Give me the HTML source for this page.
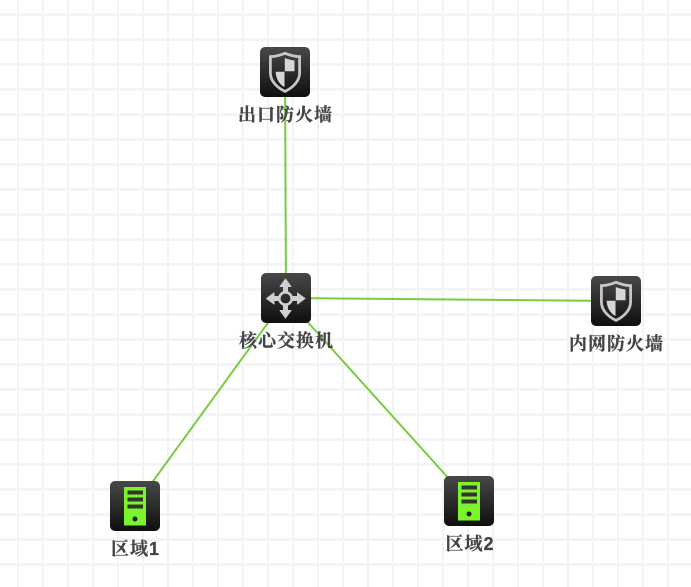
<!DOCTYPE html>
<html>
<head>
<meta charset="utf-8">
<style>
html,body{margin:0;padding:0;background:#fff}
#c{position:relative;width:691px;height:587px;overflow:hidden}
svg{position:absolute;left:0;top:0}
</style>
</head>
<body>
<div id="c">
<svg width="691" height="587" viewBox="0 0 691 587" xmlns="http://www.w3.org/2000/svg">
<defs>
<pattern id="g" x="17" y="13" width="25" height="25" patternUnits="userSpaceOnUse">
<rect x="0" y="0" width="2" height="25" fill="#f3f3f3"/>
<rect x="0" y="0" width="25" height="3" fill="#f4f4f4"/>
</pattern>
<linearGradient id="b" x1="0" y1="0" x2="0" y2="1">
<stop offset="0" stop-color="#484848"/>
<stop offset="1" stop-color="#0f0f0f"/>
</linearGradient>
<g id="shield">
<rect width="50" height="50" rx="5" fill="url(#b)"/>
<path d="M25 6.3 C30 8.3 35 9.6 39.6 9.6 V26 C39.6 34 33 40.5 25 44.4 C17 40.5 10.4 34 10.4 26 V9.6 C15 9.6 20 8.3 25 6.3 Z" fill="none" stroke="#c6c6c6" stroke-width="2.8"/>
<path d="M24.8 11 C28 12.2 31 13 34.5 13.5 V24.3 H24.8 Z M24.5 24.7 V40 C19.5 37.5 16 32 15.6 24.7 Z" fill="#d6d6d6"/>
</g>
<g id="router" fill="#cfcfcf" stroke="#cfcfcf" stroke-width="1" stroke-linejoin="round">
<rect width="50" height="50" rx="5" fill="url(#b)" stroke="none"/>
<circle cx="24.5" cy="25.5" r="6.2" fill="none" stroke-width="2.6"/>
<path d="M24.5 6 L30 13.5 H26.5 V19 H22.5 V13.5 H19 Z"/>
<path d="M24.5 45 L30 37.5 H26.5 V32 H22.5 V37.5 H19 Z"/>
<path d="M5.5 25.5 L13 20 V23.5 H18 V27.5 H13 V31 Z"/>
<path d="M44 25.5 L36.5 20 V23.5 H31 V27.5 H36.5 V31 Z"/>
</g>
<g id="server">
<rect width="50" height="50" rx="5" fill="url(#b)"/>
<rect x="14" y="6" width="22" height="38.5" fill="#79f52a"/>
<rect x="17.5" y="9.5" width="15.5" height="4" fill="#333"/>
<rect x="17.5" y="16.5" width="15.5" height="4" fill="#333"/>
<rect x="17.5" y="23.5" width="15.5" height="4" fill="#333"/>
<circle cx="25" cy="38" r="2.5" fill="#222"/>
</g>
</defs>
<rect width="691" height="587" fill="#fff"/>
<rect width="691" height="587" fill="url(#g)"/>
<g stroke="#77cc44" stroke-width="2" fill="none">
<line x1="285" y1="72" x2="286" y2="298"/>
<line x1="286" y1="298" x2="616" y2="301"/>
<line x1="286" y1="298" x2="135" y2="506"/>
<line x1="286" y1="298" x2="469" y2="501"/>
</g>
<use href="#shield" x="260" y="47"/>
<use href="#router" x="261" y="273"/>
<use href="#shield" x="591" y="276"/>
<use href="#server" x="110" y="481"/>
<use href="#server" x="444" y="476"/>
<g font-family="'Liberation Sans','Noto Serif CJK SC',serif" font-weight="700" font-size="18" fill="#444" stroke="#444" stroke-width="0.25" text-anchor="middle" letter-spacing="1">
<text x="285.5" y="121">出口防火墙</text>
<text x="286.5" y="347">核心交换机</text>
<text x="616.5" y="350">内网防火墙</text>
<text x="135.5" y="555">区域1</text>
<text x="470" y="550">区域2</text>
</g>
</svg>
</div>
</body>
</html>
